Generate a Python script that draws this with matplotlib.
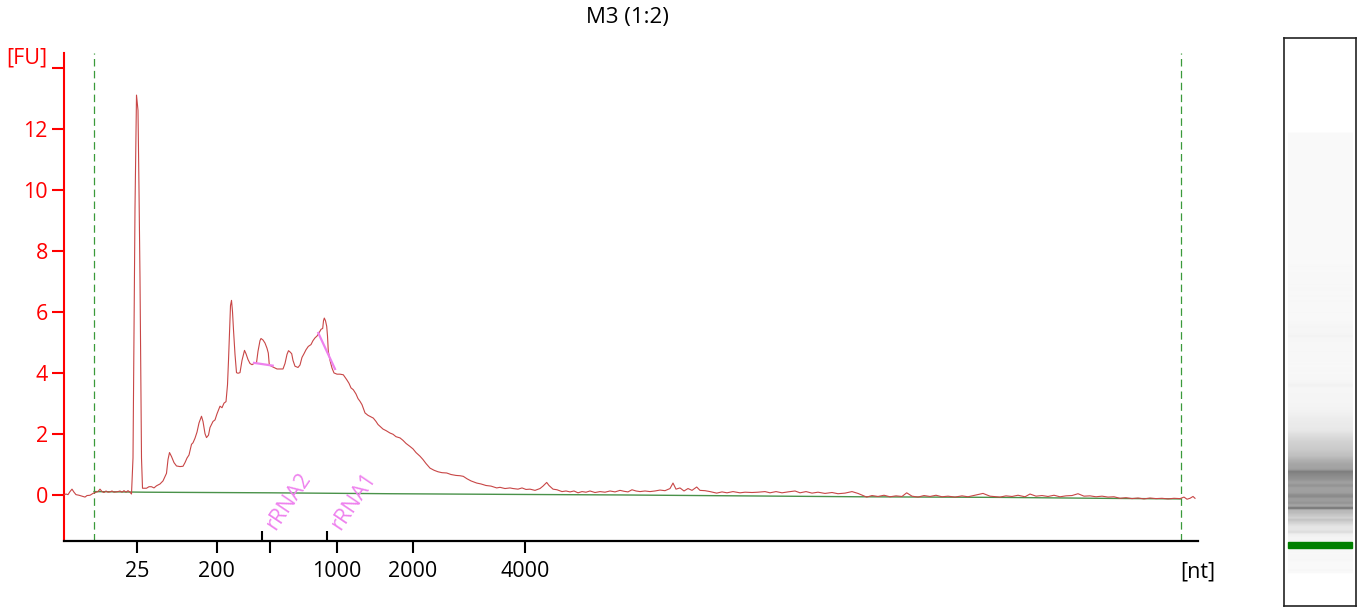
import numpy as np
import matplotlib
matplotlib.use("Agg")
import matplotlib.pyplot as plt

plt.rcParams["font.family"] = ["Open Sans", "DejaVu Sans"]

# ---------------- data ----------------
title = "M3 (1:2)"

# migration time (sample index) and fluorescence [FU]
trace_t = [
    0.5, 2, 4, 6, 8, 10, 12, 15, 18, 21,
    23, 26, 29, 32, 34, 36, 38, 40, 42, 44,
    46, 48, 50, 54, 56, 58, 60, 62, 64, 66,
    67.5, 69, 71, 72.5, 74, 75, 76, 77.5, 78.5, 82.5,
    85, 87.5, 90, 92.5, 96, 99, 102.5, 104, 105.5, 107.5,
    110, 112.5, 116, 119, 121, 123, 125, 127.5, 129, 131,
    133, 135, 137.5, 139, 141, 142.5, 144.5, 146, 149, 151,
    153, 156, 158, 160, 162, 163.5, 164.5, 165.5, 166.5, 167.5,
    168.5, 169.5, 171, 172.5, 174, 176, 178, 180.5, 182, 184,
    186, 188, 190, 192.5, 194, 196, 197, 199, 201, 203,
    204.3, 205.3, 208, 211, 213, 216, 219, 221, 223, 224.5,
    226, 227.7, 229, 231, 234, 236, 238, 240, 242, 244.3,
    247, 249, 251, 253, 255, 257, 258.7, 259.5, 260.3, 261.5,
    262.7, 263.5, 264.3, 266, 268, 270, 273, 276, 279.3, 281,
    282.7, 285, 287, 289.3, 292, 294, 296, 298, 301, 304,
    307, 309.3, 312, 314, 316, 319, 322, 326, 329, 332,
    336, 339, 342, 346, 349, 352, 356, 359, 362, 366,
    370, 374, 378, 382.7, 387, 392, 396, 399.3, 403, 407,
    412.7, 417, 422, 427, 432.7, 436, 441, 446, 449, 454,
    458, 462, 466, 471, 476, 479, 482.7, 485, 489, 493,
    498, 502, 506, 510, 514, 518, 522, 526, 531, 536,
    541, 546, 551, 556, 560, 564, 568, 572, 576, 581,
    586, 591, 596, 601, 606, 609, 612, 616, 620, 624,
    628, 632.7, 636, 641, 646, 652.7, 658, 663, 669, 676,
    681, 688, 694, 701, 706, 712, 718, 724, 731, 736,
    742, 748, 754, 761, 768, 774, 781, 788, 794, 802.7,
    808, 814, 820, 826, 832, 838, 842.7, 848, 854, 860,
    866, 872, 878, 884, 891, 898, 904, 911, 919, 926,
    936, 942, 948, 954, 961, 966, 972, 978, 984, 990,
    996, 1002, 1008, 1014, 1020, 1026, 1032, 1038, 1044, 1050,
    1056, 1062, 1068, 1074, 1080, 1086, 1092, 1098, 1104, 1110,
    1116, 1120, 1123, 1126, 1129, 1131,
]
trace_fu = [
    0.0, 0.02, 0.0, 0.1, 0.18, 0.08, 0.0, -0.02, -0.05, -0.08,
    -0.03, -0.02, 0.04, 0.08, 0.1, 0.18, 0.1, 0.07, 0.12, 0.08,
    0.09, 0.12, 0.08, 0.1, 0.12, 0.08, 0.13, 0.08, 0.13, 0.08,
    0.02, 1.2, 9.4, 13.1, 12.6, 10.0, 7.1, 1.2, 0.21, 0.21,
    0.26, 0.26, 0.22, 0.29, 0.35, 0.45, 0.7, 1.15, 1.38, 1.25,
    1.05, 0.94, 0.92, 0.93, 1.05, 1.2, 1.3, 1.65, 1.7, 1.85,
    2.05, 2.35, 2.57, 2.4, 2.0, 1.87, 1.95, 2.2, 2.4, 2.45,
    2.65, 2.9, 2.85, 3.0, 3.05, 3.6, 4.4, 5.3, 6.2, 6.37,
    6.0, 5.4, 4.6, 4.0, 3.98, 4.0, 4.4, 4.73, 4.62, 4.43,
    4.3, 4.26, 4.3, 4.32, 4.7, 5.05, 5.12, 5.07, 4.97, 4.8,
    4.64, 4.25, 4.2, 4.15, 4.12, 4.12, 4.12, 4.3, 4.6, 4.72,
    4.68, 4.62, 4.4, 4.21, 4.17, 4.25, 4.5, 4.62, 4.75, 4.86,
    4.92, 5.05, 5.14, 5.2, 5.3, 5.42, 5.45, 5.7, 5.79, 5.7,
    5.52, 5.2, 4.7, 4.4, 4.15, 3.99, 3.95, 3.95, 3.93, 3.85,
    3.77, 3.65, 3.5, 3.44, 3.3, 3.15, 3.06, 2.95, 2.68, 2.6,
    2.55, 2.51, 2.4, 2.3, 2.24, 2.15, 2.1, 2.02, 1.98, 1.9,
    1.86, 1.78, 1.68, 1.58, 1.5, 1.38, 1.26, 1.15, 1.02, 0.87,
    0.8, 0.75, 0.72, 0.71, 0.66, 0.63, 0.62, 0.6, 0.52, 0.45,
    0.38, 0.35, 0.3, 0.28, 0.22, 0.24, 0.2, 0.22, 0.2, 0.18,
    0.22, 0.17, 0.18, 0.14, 0.2, 0.28, 0.4, 0.3, 0.18, 0.16,
    0.1, 0.12, 0.09, 0.12, 0.06, 0.1, 0.08, 0.12, 0.07, 0.1,
    0.08, 0.12, 0.09, 0.14, 0.11, 0.09, 0.16, 0.12, 0.1, 0.12,
    0.1, 0.12, 0.15, 0.13, 0.2, 0.38, 0.18, 0.22, 0.12, 0.2,
    0.14, 0.25, 0.14, 0.13, 0.1, 0.05, 0.09, 0.06, 0.1, 0.06,
    0.08, 0.07, 0.08, 0.1, 0.06, 0.1, 0.06, 0.09, 0.12, 0.06,
    0.1, 0.05, 0.08, 0.04, 0.07, 0.03, 0.05, 0.1, 0.04, -0.08,
    -0.03, -0.06, -0.02, -0.07, -0.04, -0.06, 0.06, -0.05, -0.08, -0.03,
    -0.06, -0.02, -0.07, -0.05, -0.08, -0.04, -0.07, -0.02, 0.04, -0.05,
    -0.08, -0.04, -0.06, -0.02, -0.07, 0.02, -0.05, -0.03, -0.06, -0.02,
    -0.07, -0.04, -0.03, 0.03, -0.05, -0.04, -0.07, -0.05, -0.08, -0.07,
    -0.12, -0.1, -0.13, -0.11, -0.14, -0.11, -0.13, -0.12, -0.14, -0.12,
    -0.13, -0.08, -0.15, -0.12, -0.06, -0.12,
]

baseline_t = [30, 81, 206, 326, 436, 556, 636, 796, 936, 1036, 1117]
baseline_fu = [0.1, 0.08, 0.06, 0.03, 0.01, -0.01, -0.03, -0.07, -0.09, -0.12, -0.14]

window_t = [30, 1117]                       # integration window (dashed lines)

ladder_t = [73, 152.7, 206, 272.7, 348.7, 461]
ladder_labels = ["25", "200", "", "1000", "2000", "4000"]

rrna_names = ["rRNA2", "rRNA1"]
rrna_t = [198.3, 262.7]
rrna2_fit_t = [190, 208.7]
rrna2_fit_fu = [4.32, 4.23]
rrna1_fit_t = [254.3, 271]
rrna1_fit_fu = [5.30, 4.12]

fu_ticks = [0, 2, 4, 6, 8, 10, 12, 14]
fu_labels = ["0", "2", "4", "6", "8", "10", "12", ""]

marker_t = 73                               # lower marker shown in green on the gel

# ---------------- figure ----------------
W, H = 1361, 609
FS = 15.5
fig = plt.figure(figsize=(W / 100, H / 100), dpi=100)
ax = fig.add_axes([64 / W, (H - 541) / H, (1198 - 64) / W, (541 - 52.7) / H])
ax.set_xlim(0, 1134)
ax.set_ylim(-1.52, 14.49)

for s in ("top", "right"):
    ax.spines[s].set_visible(False)
ax.spines["left"].set_color("#FF0000")
ax.spines["left"].set_linewidth(1.5)
ax.spines["bottom"].set_color("black")
ax.spines["bottom"].set_linewidth(1.6)

red = "#FF0000"
ax.set_yticks(fu_ticks)
ax.set_yticklabels(fu_labels)
ax.tick_params(axis="y", colors=red, labelcolor=red, length=8.6, width=1.5,
               direction="out", labelsize=FS, pad=3)
ax.annotate("[FU]", xy=(0, 14), xycoords=("axes fraction", "data"),
            xytext=(-17, 10), textcoords="offset pixels", ha="right", va="center",
            color=red, fontsize=FS)

ax.set_xticks(ladder_t)
ax.set_xticklabels(ladder_labels)
ax.tick_params(axis="x", colors="black", length=8.6, width=1.5, direction="out",
               labelsize=FS, pad=6)
ax.set_xticks(rrna_t, minor=True)
ax.tick_params(axis="x", which="minor", direction="in", length=7, width=1.5, colors="black")
ax.annotate("[nt]", xy=(1.0, 0), xycoords="axes fraction", xytext=(0, -31),
            textcoords="offset pixels", ha="center", va="center", fontsize=FS)

# integration window
for wt in window_t:
    ax.axvline(wt, color="#3A9A3A", lw=0.9, linestyle=(0, (6, 3.5)))

# baseline and trace
ax.plot(baseline_t, baseline_fu, color="#4A924A", lw=1.0, zorder=2)
ax.plot(trace_t, trace_fu, color="#C84646", lw=0.8, zorder=3)

# rRNA fits and labels
violet = "#EE82EE"
ax.plot(rrna2_fit_t, rrna2_fit_fu, color=violet, lw=1.6, zorder=4)
ax.plot(rrna1_fit_t, rrna1_fit_fu, color=violet, lw=1.6, zorder=4)
for name, t in zip(rrna_names, rrna_t):
    ax.annotate(name, xy=(t, 0), xycoords=("data", "axes fraction"),
                xytext=(13, 10), textcoords="offset pixels", rotation=56,
                rotation_mode="anchor", ha="left", va="baseline",
                color=violet, fontsize=FS)

fig.text(627 / W, 1 - 18 / H, title, ha="center", va="center", fontsize=16)

# ---------------- virtual gel lane ----------------
gax = fig.add_axes([1284 / W, 3 / H, 72 / W, (606 - 38) / H])
g_lo, g_hi = -83.4, 1373
gax.set_xticks([])
gax.set_yticks([])
for s in gax.spines.values():
    s.set_color("#222222")
    s.set_linewidth(1.2)

rows = np.linspace(g_lo, g_hi, 1400)
vals = np.interp(rows, trace_t, trace_fu, left=np.nan, right=np.nan)
inside = ~np.isnan(vals)
dark = np.where(inside, 0.02 + 0.085 * np.clip(np.nan_to_num(vals), 0, None), 0.0)
dark = np.clip(dark, 0, 0.62)
gray = 1 - dark
img = np.repeat(gray[:, None, None], 3, axis=2)
gax.imshow(img, extent=[0.05, 0.95, g_lo, g_hi], origin="lower", aspect="auto",
           interpolation="bilinear")
gax.axhspan(marker_t - 7, marker_t + 7, xmin=0.05, xmax=0.95, color="#008000", zorder=3)
gax.set_xlim(0, 1)
gax.set_ylim(g_lo, g_hi)

fig.savefig("out.png", dpi=100)
